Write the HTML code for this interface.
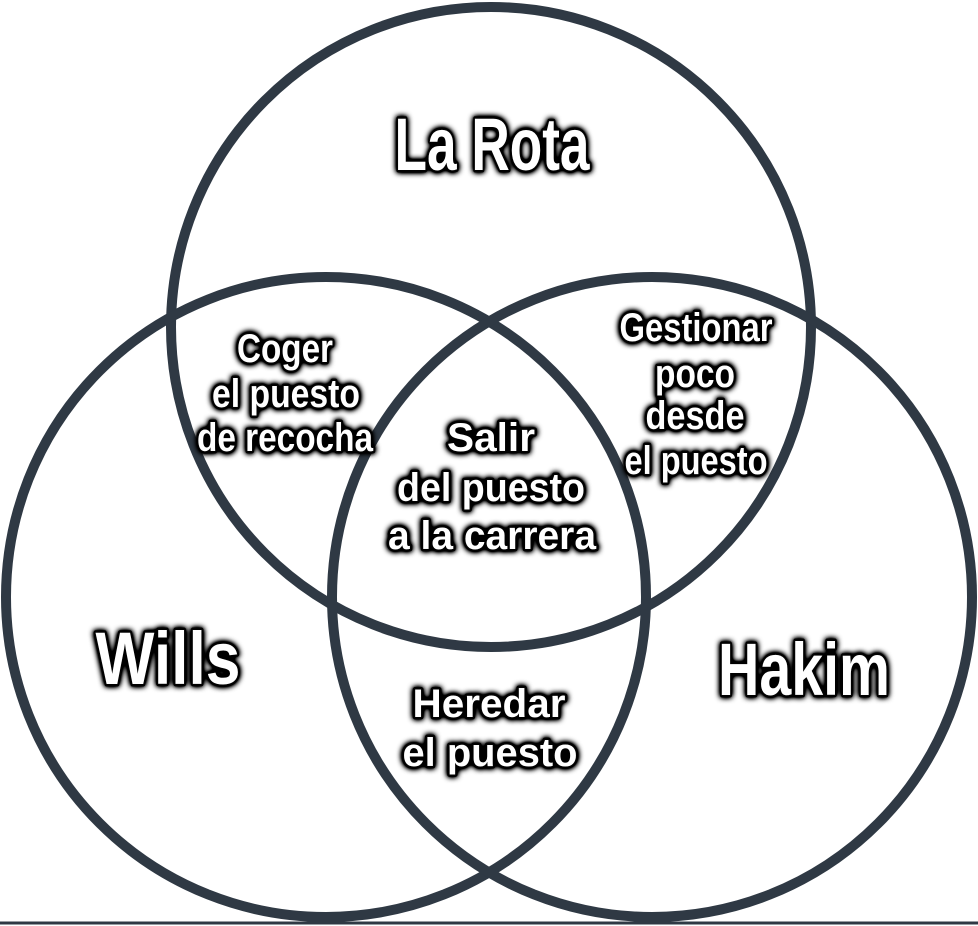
<!DOCTYPE html>
<html><head><meta charset="utf-8"><style>
html,body{margin:0;padding:0;background:#fff;width:978px;height:926px;overflow:hidden}
svg text{font-family:"Liberation Sans",sans-serif;font-weight:bold;fill:#fff;text-anchor:middle;stroke:#000;stroke-width:5px;paint-order:stroke;stroke-linejoin:round}
</style></head><body>
<svg width="978" height="926" viewBox="0 0 978 926" xmlns="http://www.w3.org/2000/svg">
<defs><filter id="g" x="-20%" y="-20%" width="140%" height="140%"><feGaussianBlur in="SourceAlpha" stdDeviation="3"/><feComponentTransfer><feFuncA type="linear" slope="2"/></feComponentTransfer><feMerge><feMergeNode/><feMergeNode in="SourceGraphic"/></feMerge></filter></defs>
<rect width="978" height="926" fill="#fff"/>
<g fill="none" stroke="#2f3944" stroke-width="10">
<circle cx="491" cy="327" r="320"/>
<circle cx="326" cy="597" r="320"/>
<circle cx="652" cy="597" r="320"/>
</g>
<line x1="0" y1="923" x2="978" y2="923" stroke="#2f3944" stroke-width="3"/>
<g filter="url(#g)">
<text x="492" y="170" font-size="74" textLength="195" lengthAdjust="spacingAndGlyphs">La Rota</text>
<text x="168" y="684" font-size="74" textLength="145" lengthAdjust="spacingAndGlyphs">Wills</text>
<text x="804" y="695" font-size="74" textLength="172" lengthAdjust="spacingAndGlyphs">Hakim</text>
<g font-size="40" style="stroke-width:4px">
<text x="285" y="362" textLength="96" lengthAdjust="spacingAndGlyphs">Coger</text>
<text x="286" y="407" textLength="148" lengthAdjust="spacingAndGlyphs">el puesto</text>
<text x="285" y="451" textLength="176" lengthAdjust="spacingAndGlyphs">de recocha</text>
<text x="696" y="341" textLength="153" lengthAdjust="spacingAndGlyphs">Gestionar</text>
<text x="695" y="387" textLength="80" lengthAdjust="spacingAndGlyphs">poco</text>
<text x="695" y="429" textLength="99" lengthAdjust="spacingAndGlyphs">desde</text>
<text x="696" y="474" textLength="143" lengthAdjust="spacingAndGlyphs">el puesto</text>
<text x="491" y="451" textLength="88" lengthAdjust="spacingAndGlyphs">Salir</text>
<text x="491" y="501" textLength="188" lengthAdjust="spacingAndGlyphs">del puesto</text>
<text x="492" y="549" textLength="208" lengthAdjust="spacingAndGlyphs">a la carrera</text>
<text x="489" y="717" textLength="153" lengthAdjust="spacingAndGlyphs">Heredar</text>
<text x="490" y="766" textLength="175" lengthAdjust="spacingAndGlyphs">el puesto</text>
</g>
</g>
</svg>
</body></html>
